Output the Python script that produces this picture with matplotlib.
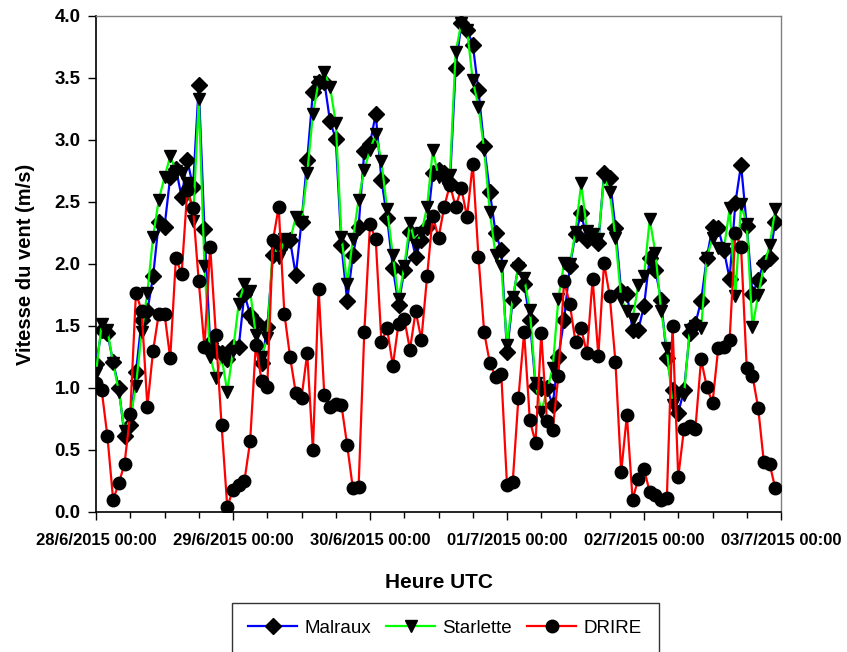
import matplotlib
matplotlib.use("Agg")
import matplotlib.pyplot as plt
from matplotlib.ticker import MultipleLocator, FormatStrFormatter

plt.rcParams['font.family'] = ['Liberation Sans', 'DejaVu Sans']

# Hours since 28/6/2015 00:00 (UTC)
hours = list(range(120))

malraux = [1.19, 1.47, 1.44, 1.21, 1.00, 0.61, 0.70, 1.13, 1.55, 1.62,
           1.90, 2.34, 2.30, 2.70, 2.77, 2.54, 2.84, 2.62, 3.44, 2.28,
           1.36, 1.30, 1.28, 1.23, 1.33, 1.33, 1.76, 1.59, 1.53, 1.20,
           1.49, 2.07, 2.12, 2.17, 2.19, 1.91, 2.34, 2.84, 3.39, 3.47,
           3.47, 3.15, 3.01, 2.15, 1.70, 2.07, 2.30, 2.91, 2.97, 3.21,
           2.68, 2.37, 1.97, 1.67, 1.95, 2.26, 2.06, 2.19, 2.30, 2.73,
           2.76, 2.73, 2.65, 3.58, 3.94, 3.89, 3.77, 3.40, 2.95, 2.58,
           2.25, 2.11, 1.29, 1.71, 1.99, 1.84, 1.55, 1.02, 1.00, 1.00,
           0.86, 1.25, 1.55, 1.98, 2.24, 2.41, 2.19, 2.22, 2.17, 2.73,
           2.69, 2.29, 1.78, 1.76, 1.47, 1.47, 1.66, 2.05, 1.95, 1.71,
           1.24, 0.98, 0.80, 0.98, 1.44, 1.52, 1.70, 2.05, 2.30, 2.29,
           2.11, 1.88, 2.49, 2.80, 2.31, 1.76, 1.87, 2.01, 2.05, 2.34]

starlette = [1.12, 1.52, 1.47, 1.20, 0.97, 0.65, 0.75, 1.02, 1.45, 1.77,
             2.22, 2.52, 2.70, 2.87, 2.75, 2.73, 2.65, 2.35, 3.33, 1.98,
             1.25, 1.08, 1.25, 0.97, 1.30, 1.68, 1.84, 1.78, 1.43, 1.25,
             1.40, 2.15, 2.05, 2.20, 2.19, 2.38, 2.34, 2.73, 3.21, 3.47,
             3.55, 3.43, 3.14, 2.22, 1.84, 2.20, 2.52, 2.76, 2.92, 3.05,
             2.83, 2.44, 2.07, 1.72, 1.98, 2.33, 2.15, 2.25, 2.46, 2.92,
             2.70, 2.68, 2.72, 3.71, 3.94, 3.89, 3.48, 3.27, 2.92, 2.42,
             2.07, 1.98, 1.35, 1.73, 1.97, 1.89, 1.63, 1.04, 0.81, 0.98,
             1.16, 1.72, 2.01, 2.00, 2.26, 2.65, 2.27, 2.24, 2.20, 2.70,
             2.58, 2.21, 1.72, 1.62, 1.56, 1.83, 1.90, 2.36, 2.09, 1.62,
             1.32, 0.86, 0.95, 0.94, 1.47, 1.50, 1.48, 2.05, 2.21, 2.13,
             2.12, 2.45, 1.74, 2.48, 2.32, 1.49, 1.75, 1.98, 2.15, 2.44]

drire = [1.04, 0.98, 0.61, 0.10, 0.23, 0.39, 0.79, 1.77, 1.62, 0.85,
         1.30, 1.60, 1.60, 1.24, 2.05, 1.92, 2.60, 2.45, 1.86, 1.33,
         2.14, 1.43, 0.70, 0.04, 0.18, 0.22, 0.25, 0.57, 1.35, 1.06,
         1.01, 2.19, 2.46, 1.60, 1.25, 0.96, 0.92, 1.28, 0.50, 1.80,
         0.94, 0.85, 0.87, 0.86, 0.54, 0.19, 0.20, 1.45, 2.32, 2.20,
         1.37, 1.48, 1.18, 1.52, 1.56, 1.31, 1.62, 1.39, 1.90, 2.39,
         2.21, 2.46, 2.64, 2.46, 2.61, 2.38, 2.81, 2.06, 1.45, 1.20,
         1.09, 1.11, 0.22, 0.24, 0.92, 1.45, 0.74, 0.56, 1.44, 0.73,
         0.66, 1.10, 1.86, 1.68, 1.37, 1.48, 1.28, 1.88, 1.26, 2.01,
         1.74, 1.21, 0.32, 0.78, 0.10, 0.27, 0.35, 0.16, 0.14, 0.10,
         0.11, 1.50, 0.28, 0.67, 0.69, 0.67, 1.23, 1.01, 0.88, 1.32,
         1.33, 1.39, 2.25, 2.14, 1.16, 1.10, 0.84, 0.40, 0.39, 0.19]

day_ticks = [0, 24, 48, 72, 96, 120]
day_labels = ["28/6/2015 00:00", "29/6/2015 00:00", "30/6/2015 00:00",
              "01/7/2015 00:00", "02/7/2015 00:00", "03/7/2015 00:00"]

fig = plt.figure(figsize=(8.47, 6.52), dpi=100)
ax = fig.add_axes([96/847, 1 - 512/652, (781 - 96)/847, (512 - 16)/652])

ms = 9
lw = 1.6
ax.plot(hours, malraux, color='#0000ff', lw=lw, marker='D', ms=ms*0.85,
        mfc='black', mec='black', label='Malraux', zorder=3)
ax.plot(hours, starlette, color='#00ff00', lw=lw, marker='v', ms=ms,
        mfc='black', mec='black', label='Starlette', zorder=4)
ax.plot(hours, drire, color='#ff0000', lw=lw, marker='o', ms=ms,
        mfc='black', mec='black', label='DRIRE', zorder=5)

ax.set_xlim(0, 120)
ax.set_ylim(0, 4.0)
ax.set_xticks(day_ticks)
ax.set_xticklabels(day_labels, fontweight='bold', fontsize=12)
ax.xaxis.set_minor_locator(MultipleLocator(6))
ax.yaxis.set_major_locator(MultipleLocator(0.5))
ax.yaxis.set_major_formatter(FormatStrFormatter('%.1f'))
for lab in ax.get_yticklabels():
    lab.set_fontweight('bold')
    lab.set_fontsize(13.5)
ax.tick_params(axis='both', which='major', direction='out', length=6, width=1, pad=5)
ax.tick_params(axis='both', which='minor', direction='out', length=4, width=1)
ax.tick_params(axis='x', which='major', pad=9)

for s in ['top', 'right']:
    ax.spines[s].set_color('#808080')
    ax.spines[s].set_linewidth(1.0)
for s in ['left', 'bottom']:
    ax.spines[s].set_color('black')
    ax.spines[s].set_linewidth(1.2)

ax.set_ylabel('Vitesse du vent (m/s)', fontsize=14.5, fontweight='bold', labelpad=14)
ax.set_xlabel('Heure UTC', fontsize=15, fontweight='bold', labelpad=18)

leg = fig.legend(loc='center', bbox_to_anchor=(445/847, 1 - 628/652), ncol=3,
                 fontsize=13.5, frameon=True, fancybox=False, edgecolor='black',
                 handlelength=2.6, handletextpad=0.4, columnspacing=0.8,
                 borderpad=0.9)
leg.get_frame().set_linewidth(1.0)

fig.savefig('out.png', dpi=100)
